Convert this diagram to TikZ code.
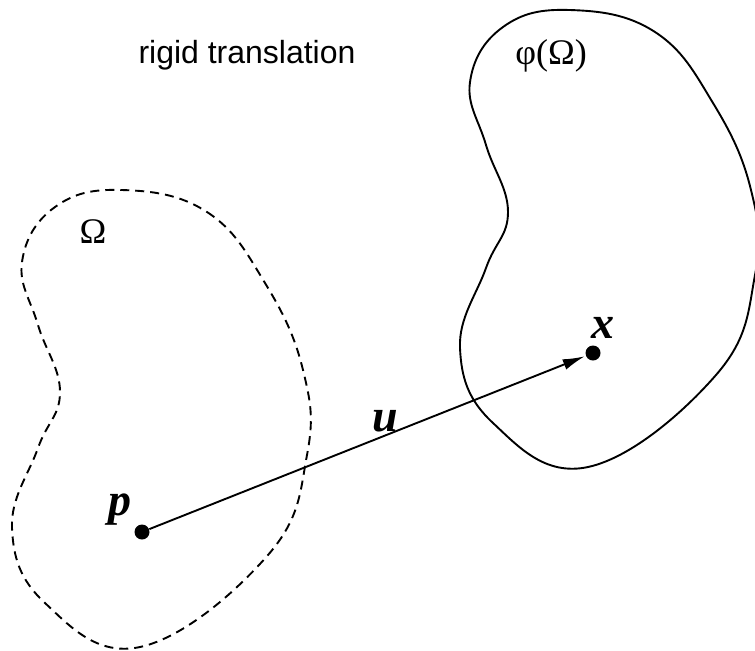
\documentclass[tikz,border=0pt]{standalone}
\usepackage{fontspec}
\setmainfont{Liberation Serif}
\newfontfamily\labelsans{Liberation Sans}
\usepackage{tikz}
\usetikzlibrary{arrows.meta, positioning, calc}

% outline of the body (pixel units, y pointing down)
\newcommand{\bodyoutline}{(122,190) (207,212) (265,283) (303,370) (307,455) (268,555) (140,647) (45,603) (12,528) (38,448) (60,392) (38,325) (22,262) (55,207)}

\begin{document}
\begin{tikzpicture}[
        x=0.5pt, y=-0.5pt,
        >=Latex,
        dot/.style={
            circle,
            fill=black,
            inner sep=0pt,
            minimum size=7.5pt
        },
        body/.style={
            line width=0.95pt
        },
        refbody/.style={
            body,
            dash pattern=on 4.5pt off 3pt
        },
        arr/.style={
            line width=0.95pt,
            shorten >=0.5pt,
            -{Latex[length=11pt, width=5.5pt]}
        },
        greek/.style={
            font=\fontsize{18}{21}\selectfont
        },
        vec/.style={
            font=\fontsize{23}{27}\selectfont\bfseries\itshape
        }
    ]
    \useasboundingbox (0,0) rectangle (755,650);

    % reference configuration and its translate
    \draw[refbody] plot[smooth cycle, tension=0.7] coordinates {\bodyoutline};
    \draw[body, shift={(448,-180)}] plot[smooth cycle, tension=0.7] coordinates {\bodyoutline};

    \node[anchor=base, font=\labelsans\fontsize{16}{19}\selectfont] (title) at (247,63) {rigid translation};
    \node[greek] (omega) at (93,232) {Ω};
    \node[greek] (phiomega) at (551,56) {φ(Ω)};

    \node[dot] (p) at (142,532) {};
    \node[dot] (x) at (593,353) {};
    \node[vec, above left=-3pt and -1pt of p] (plabel) {p};
    \node[vec, above right=1pt and -7pt of x] (xlabel) {x};

    \draw[arr] (p) -- (x) node[vec, pos=0.54, above=-2pt] (ulabel) {u};
\end{tikzpicture}
\end{document}
